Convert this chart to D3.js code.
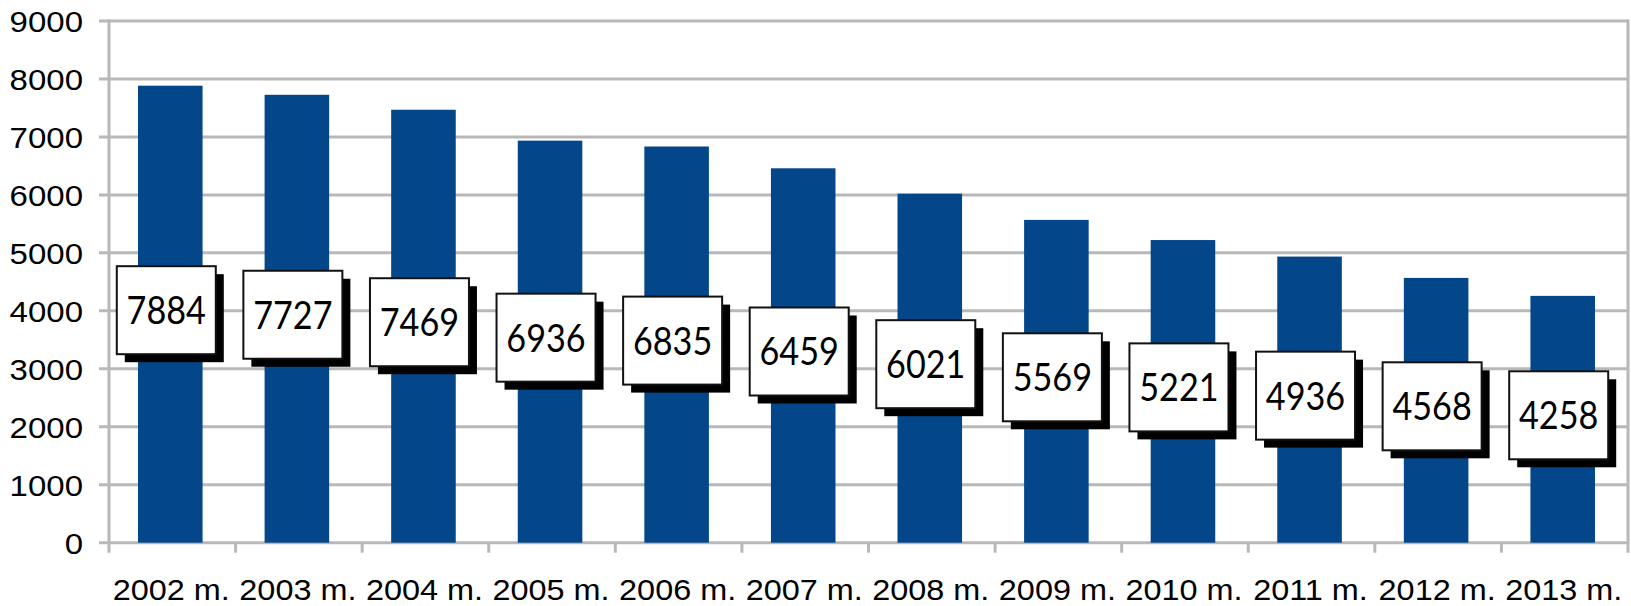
<!DOCTYPE html>
<html><head><meta charset="utf-8">
<script src="https://cdn.jsdelivr.net/npm/d3@7"></script>
<style>html,body{margin:0;padding:0;background:#fff;}svg{display:block;}</style>
</head><body><svg id="c" width="1631" height="606"></svg>
<script>
const categories = ["2002 m.","2003 m.","2004 m.","2005 m.","2006 m.","2007 m.","2008 m.","2009 m.","2010 m.","2011 m.","2012 m.","2013 m."];
const values = [7884,7727,7469,6936,6835,6459,6021,5569,5221,4936,4568,4258];
const yTicks = [0,1000,2000,3000,4000,5000,6000,7000,8000,9000];

const svg = d3.select("#c");
const pL = 109, pR = 1628, pT = 21, pB = 542.7;
const x = d3.scaleBand().domain(categories).range([pL, pR]).paddingInner(0.49).paddingOuter(0.245);
const xb = d3.scaleBand().domain(categories).range([pL, pR]);
const y = d3.scaleLinear().domain([0, 9000]).range([pB, pT]);
const grid = "#b8b8b8";
const axFont = "'Liberation Sans', Arial, sans-serif";

// gridlines
svg.append("g").selectAll("line").data(yTicks).join("line")
  .attr("x1", pL - 10).attr("x2", pR).attr("y1", d => y(d)).attr("y2", d => y(d))
  .attr("stroke", grid).attr("stroke-width", 3);
// right border
svg.append("line").attr("x1", pR).attr("x2", pR).attr("y1", pT - 1.5).attr("y2", pB + 10)
  .attr("stroke", grid).attr("stroke-width", 3);

// bars
svg.append("g").selectAll("rect").data(values).join("rect")
  .attr("x", (d, i) => x(categories[i]) - 2).attr("width", x.bandwidth())
  .attr("y", d => y(d)).attr("height", d => pB - y(d))
  .attr("fill", "#03468a");

// axes lines
svg.append("line").attr("x1", pL).attr("x2", pL).attr("y1", pT - 1.5).attr("y2", pB + 10)
  .attr("stroke", grid).attr("stroke-width", 3);
svg.append("g").selectAll("line").data(categories.slice(1)).join("line")
  .attr("x1", d => xb(d)).attr("x2", d => xb(d)).attr("y1", pB).attr("y2", pB + 10)
  .attr("stroke", grid).attr("stroke-width", 3);

// y labels (slightly widened to match reference glyph proportions)
svg.append("g").selectAll("text").data(yTicks).join("text")
  .attr("transform", d => `translate(83,${y(d)}) scale(1.1,1)`)
  .attr("dy", "0.36em").attr("text-anchor", "end")
  .attr("font-family", axFont).attr("font-size", 30).attr("fill", "#000")
  .text(d => d);
// x labels
svg.append("g").selectAll("text").data(categories).join("text")
  .attr("transform", d => `translate(${xb(d) + xb.bandwidth() / 2 - 1},600) scale(1.08,1)`)
  .attr("text-anchor", "middle")
  .attr("font-family", axFont).attr("font-size", 30).attr("fill", "#000")
  .text(d => d);

// data label boxes
const bw = 99, bh = 88, sh = 8;
const lab = svg.append("g").selectAll("g").data(values).join("g")
  .attr("transform", (d, i) => {
    const cx = x(categories[i]) - 2 + x.bandwidth() / 2 - sh / 2;
    const cy = (y(d) + pB) / 2 - sh / 2;
    return `translate(${cx},${cy})`;
  });
lab.append("rect").attr("x", -bw / 2 + sh).attr("y", -bh / 2 + sh).attr("width", bw).attr("height", bh).attr("fill", "#000");
lab.append("rect").attr("x", -bw / 2).attr("y", -bh / 2).attr("width", bw).attr("height", bh)
  .attr("fill", "#fff").attr("stroke", "#111").attr("stroke-width", 2);
lab.append("text").attr("x", 0).attr("y", 0).attr("dy", "0.36em").attr("text-anchor", "middle")
  .attr("transform", "scale(0.95,1.08)")
  .attr("font-family", "Lato, 'Open Sans', sans-serif").attr("font-size", 36).attr("fill", "#000")
  .text(d => d);
</script></body></html>
